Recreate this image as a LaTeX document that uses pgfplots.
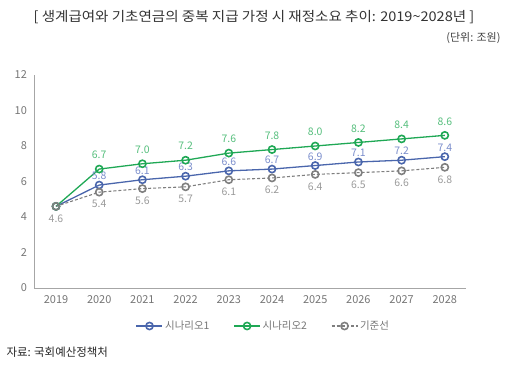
\documentclass[border=0pt]{standalone}
\usepackage{fontspec}
\setmainfont{Noto Sans CJK KR}
\usepackage{pgfplots}
\pgfplotsset{compat=1.18}
\definecolor{cblue}{HTML}{4A66AC}
\definecolor{cgreen}{HTML}{1FA855}
\definecolor{cgray}{HTML}{7F7F7F}
\definecolor{lblue}{HTML}{7A8DCB}
\definecolor{lgreen}{HTML}{55BE7C}
\definecolor{lgray}{HTML}{9A9A9A}
\definecolor{axisgray}{HTML}{A6A6A6}
\definecolor{ticktext}{HTML}{767676}
\begin{document}
\begin{tikzpicture}[x=1bp,y=1bp]
\path[use as bounding box] (0,0) rectangle (519,-366);
\node[font=\fontsize{13.5}{15}\selectfont, text=black!80, xscale=1.08] at (254,-17) {[ 생계급여와 기초연금의 중복 지급 가정 시 재정소요 추이: 2019\textasciitilde2028년 ]};
\node[font=\fontsize{11}{13}\selectfont, text=black!75, anchor=east] at (504,-38) {(단위: 조원)};
\node[font=\fontsize{11.5}{13}\selectfont, text=black!85, anchor=west] at (3,-352) {자료: 국회예산정책처};
\begin{axis}[
  at={(56bp,-288bp)}, anchor=origin,
  scale only axis, width=432bp, height=213bp,
  xmin=-0.5, xmax=9.5, ymin=0, ymax=12,
  axis x line*=bottom, axis y line*=left,
  axis line style={axisgray, line width=0.9pt, -},
  xtick={0,...,9},
  xticklabels={2019,2020,2021,2022,2023,2024,2025,2026,2027,2028},
  ytick={0,2,...,12},
  major tick length=0pt,
  tick label style={font=\fontsize{11}{13}\selectfont, text=ticktext},
  xticklabel style={yshift=-4bp},
  yticklabel style={xshift=-4bp},
  /pgf/number format/assume math mode=true,
  point meta=explicit symbolic,
  nodes near coords,
  every node near coord/.append style={font=\fontsize{10.5}{12}\selectfont},
  clip=false,
  legend columns=3,
  legend style={at={(229bp,-38bp)}, anchor=center, draw=none, fill=none,
    font=\fontsize{10.5}{12}\selectfont, text=ticktext,
    /tikz/every even column/.append style={column sep=22bp}},
  legend image code/.code={
    \draw[#1, mark repeat=2, mark phase=2] plot coordinates {(0bp,0bp) (13bp,0bp) (26bp,0bp)};
  },
]
\addplot[cblue, line width=1.3pt, mark=o, mark size=3.6pt, mark options={fill=white, line width=1.6pt},
  every node near coord/.append style={text=lblue, yshift=1bp}]
  coordinates {(0,4.6)[] (1,5.8)[5.8] (2,6.1)[6.1] (3,6.3)[6.3] (4,6.6)[6.6] (5,6.7)[6.7] (6,6.9)[6.9] (7,7.1)[7.1] (8,7.2)[7.2] (9,7.4)[7.4]};
\addlegendentry{시나리오1}
\addplot[cgreen, line width=1.3pt, mark=o, mark size=3.6pt, mark options={fill=white, line width=1.6pt},
  every node near coord/.append style={text=lgreen, yshift=6bp}]
  coordinates {(0,4.6)[] (1,6.7)[6.7] (2,7.0)[7.0] (3,7.2)[7.2] (4,7.6)[7.6] (5,7.8)[7.8] (6,8.0)[8.0] (7,8.2)[8.2] (8,8.4)[8.4] (9,8.6)[8.6]};
\addlegendentry{시나리오2}
\addplot[cgray, line width=1.1pt, dashed, dash pattern=on 3pt off 2pt, mark=o, mark size=3.6pt, mark options={fill=white, line width=1.6pt, solid},
  every node near coord/.append style={text=lgray, anchor=north, yshift=-4bp}]
  coordinates {(0,4.6)[4.6] (1,5.4)[5.4] (2,5.6)[5.6] (3,5.7)[5.7] (4,6.1)[6.1] (5,6.2)[6.2] (6,6.4)[6.4] (7,6.5)[6.5] (8,6.6)[6.6] (9,6.8)[6.8]};
\addlegendentry{기준선}
\end{axis}
\end{tikzpicture}
\end{document}
